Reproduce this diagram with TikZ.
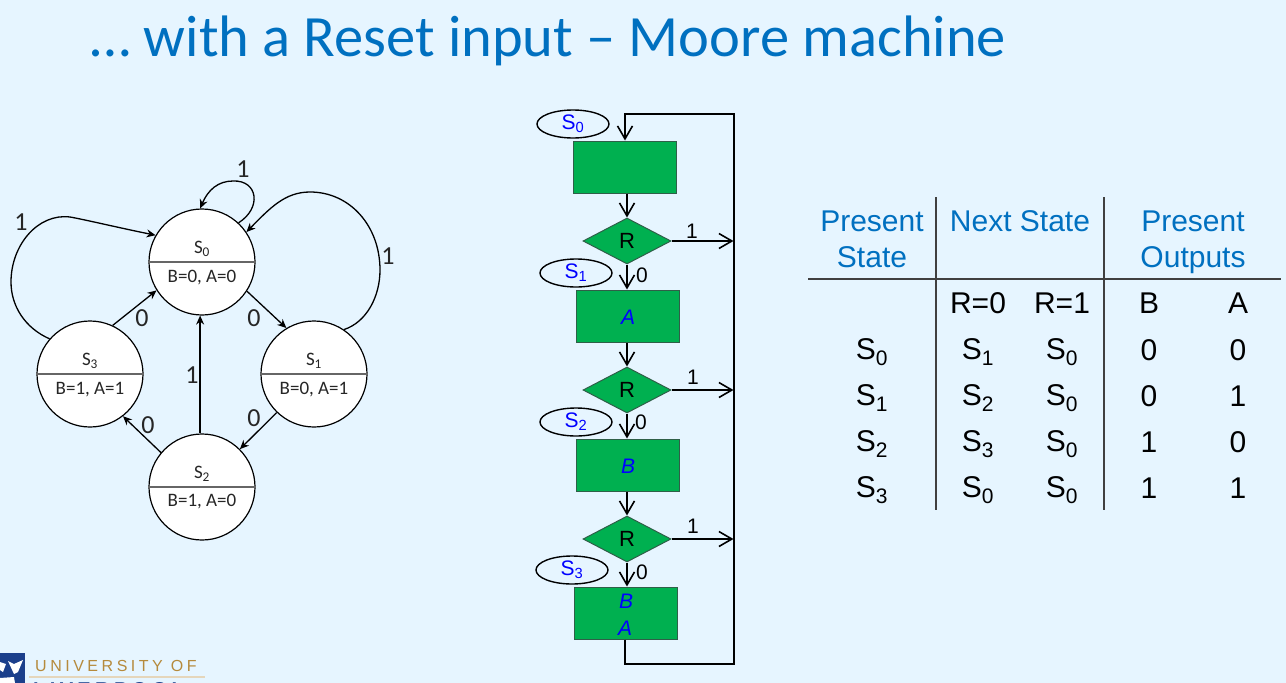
\documentclass[tikz,border=0pt]{standalone}
\usepackage{xcolor}
\usepackage{fontspec}
\usepackage{tikz}
\usetikzlibrary{shapes.geometric, arrows.meta}
\setmainfont{Liberation Sans}
\newfontfamily\titlefont{Carlito}
\newfontfamily\logofont[LetterSpace=22]{Liberation Sans}
\definecolor{slidebg}{HTML}{E6F5FF}
\definecolor{slideblue}{HTML}{0070C0}
\definecolor{flowgreen}{HTML}{00B050}
\definecolor{flowedge}{HTML}{2F5F48}
\definecolor{logogold}{HTML}{B58A3C}
\definecolor{logonavy}{HTML}{1B3F8B}
\newcommand{\stname}[1]{S\textsubscript{#1}}
\tikzset{
    statebox/.style={circle, draw=black, fill=white, line width=1.2pt, minimum size=106pt, inner sep=0pt},
    statetext/.style={font=\titlefont\fontsize{19}{19}\selectfont, text=black!85},
    edgelabel/.style={font=\titlefont\fontsize{26}{26}\selectfont, text=black!85},
    statearrow/.style={line width=1.3pt, -{Stealth[length=9pt,width=8pt]}},
    flowbox/.style={rectangle, draw=flowedge, fill=flowgreen, line width=1pt, minimum width=103pt, minimum height=52pt, inner sep=0pt},
    flowtest/.style={diamond, draw=flowedge, fill=flowgreen, line width=1pt, minimum width=88pt, minimum height=46pt, inner sep=0pt, font=\fontsize{22}{22}\selectfont},
    flowtag/.style={ellipse, draw=black, line width=1.4pt, minimum width=72pt, minimum height=28pt, inner sep=0pt, text=blue, font=\fontsize{21}{21}\selectfont},
    flowvar/.style={text=blue, inner sep=0pt, font=\itshape\fontsize{21}{21}\selectfont},
    flowlabel/.style={inner sep=0pt, font=\fontsize{21}{21}\selectfont},
    flowarrow/.style={line width=2pt, -{Straight Barb[length=13pt,width=15pt,line width=1.6pt]}},
    tablehead/.style={text=slideblue, inner sep=0pt, font=\fontsize{30}{30}\selectfont},
    tablecell/.style={inner sep=0pt, font=\fontsize{30}{30}\selectfont},
    tablerule/.style={draw=black!75, line width=1.3pt}
}

\begin{document}
\begin{tikzpicture}[x=1pt, y=-1pt]
    \useasboundingbox (0,0) rectangle (1286,683);
    \clip (0,0) rectangle (1286,683);
    \fill[slidebg] (0,0) rectangle (1286,683);

    % Title
    \node[anchor=west, inner sep=0pt, text=slideblue, font=\titlefont\fontsize{58.5}{58.5}\selectfont] (title) at (90,41) {\dots{} with a Reset input – Moore machine};

    % State circles
    \node[statebox] (s0) at (202,262) {};
    \node[statebox] (s1) at (314,374) {};
    \node[statebox] (s2) at (202,487) {};
    \node[statebox] (s3) at (90,374) {};
    \draw[draw=black!60, line width=1.4pt] (s0.west) -- (s0.east);
    \draw[draw=black!60, line width=1.4pt] (s1.west) -- (s1.east);
    \draw[draw=black!60, line width=1.4pt] (s2.west) -- (s2.east);
    \draw[draw=black!60, line width=1.4pt] (s3.west) -- (s3.east);
    \node[statetext] (s0name) at (202,249) {\stname{0}};
    \node[statetext] (s1name) at (314,361) {\stname{1}};
    \node[statetext] (s2name) at (202,474) {\stname{2}};
    \node[statetext] (s3name) at (90,361) {\stname{3}};
    \node[statetext] (s0out) at (202,278) {B=0, A=0};
    \node[statetext] (s1out) at (314,390) {B=0, A=1};
    \node[statetext] (s2out) at (202,502) {B=1, A=0};
    \node[statetext] (s3out) at (90,390) {B=1, A=1};

    % State transitions
    \draw[statearrow] (s0.-33) -- (s1.121);
    \draw[statearrow] (s1.226) -- (s2.45);
    \draw[statearrow] (s2.140) -- (s3.-52);
    \draw[statearrow] (s3.65) -- (s0.212);
    \draw[statearrow] (s2.92) -- (s0.268);
    \coordinate (s0loop) at (233,181);
    \coordinate (s1loop) at (380,270);
    \coordinate (s1top) at (310,192);
    \coordinate (s3loop) at (11,282);
    \coordinate (s3top) at (70,217);
    \draw[statearrow] (s0.47) .. controls (262,208) and (258,180) .. (s0loop) .. controls (218,181) and (208,190) .. (s0.92);
    \draw[statearrow] (s1.56) .. controls (367,322) and (380,296) .. (s1loop) .. controls (380,226) and (350,192) .. (s1top) .. controls (285,192) and (270,208) .. (s0.34);
    \draw[statearrow] (s3.139) .. controls (25,328) and (11,306) .. (s3loop) .. controls (11,245) and (38,213) .. (s3top) .. controls (82,219) and (120,228) .. (s0.150);
    \node[edgelabel] (l01) at (254,318) {0};
    \node[edgelabel] (l12) at (254,418) {0};
    \node[edgelabel] (l23) at (148,425) {0};
    \node[edgelabel] (l30) at (142,318) {0};
    \node[edgelabel] (l20) at (192,375) {1};
    \node[edgelabel] (l00) at (243,169) {1};
    \node[edgelabel] (l10) at (388,256) {1};
    \node[edgelabel] (l33) at (21,222) {1};

    % Flowchart blocks
    \node[flowbox] (box0) at (625,167) {};
    \node[flowtest] (test1) at (627,241) {R};
    \node[flowbox] (box1) at (628,316) {};
    \node[flowtest] (test2) at (627,390) {R};
    \node[flowbox] (box2) at (628,465) {};
    \node[flowtest] (test3) at (627,539) {R};
    \node[flowbox] (box3) at (625.5,613) {};
    \node[flowvar] (varA) at (628,317) {A};
    \node[flowvar] (varB) at (628,466) {B};
    \node[flowvar] (varBB) at (626,601) {B};
    \node[flowvar] (varAA) at (625,628) {A};
    \node[flowtag] (tag0) at (573,124) {\stname{0}};
    \node[flowtag] (tag1) at (576,273) {\stname{1}};
    \node[flowtag] (tag2) at (576,422) {\stname{2}};
    \node[flowtag] (tag3) at (572,570) {\stname{3}};

    % Flowchart arrows
    \coordinate (bus1) at (733.5,241);
    \coordinate (bus2) at (733.5,390);
    \coordinate (bus3) at (733.5,539);
    \coordinate (bustop) at (733.5,114);
    \coordinate (busbot) at (733.5,664);
    \coordinate (backin) at (625,114);
    \coordinate (backout) at (625,664);
    \draw[flowarrow] (box0.south -| test1) -- (test1.north);
    \draw[flowarrow] (test1.south) -- (test1.south |- box1.north);
    \draw[flowarrow] (box1.south -| test2) -- (test2.north);
    \draw[flowarrow] (test2.south) -- (test2.south |- box2.north);
    \draw[flowarrow] (box2.south -| test3) -- (test3.north);
    \draw[flowarrow] (test3.south) -- (test3.south |- box3.north);
    \draw[flowarrow] (test1.east) -- (bus1);
    \draw[flowarrow] (test2.east) -- (bus2);
    \draw[flowarrow] (test3.east) -- (bus3);
    \draw[flowarrow] (box3.south -| backout) -- (backout) -- (busbot) -- (bustop) -- (backin) -- (box0.north -| backin);
    \node[flowlabel] (r1) at (692,231) {1};
    \node[flowlabel] (r2) at (693,377) {1};
    \node[flowlabel] (r3) at (693,526) {1};
    \node[flowlabel] (z1) at (642,275) {0};
    \node[flowlabel] (z2) at (641,422) {0};
    \node[flowlabel] (z3) at (642,572) {0};

    % Table rules
    \coordinate (ruleA) at (936,197);
    \coordinate (ruleB) at (936,510);
    \coordinate (ruleC) at (1104,197);
    \coordinate (ruleD) at (1104,510);
    \coordinate (ruleE) at (808,279);
    \coordinate (ruleF) at (1281,279);
    \draw[tablerule] (ruleA) -- (ruleB);
    \draw[tablerule] (ruleC) -- (ruleD);
    \draw[tablerule] (ruleE) -- (ruleF);

    % Table header
    \node[tablehead] (hpresent) at (872,221) {Present};
    \node[tablehead] (hstate) at (872,257) {State};
    \node[tablehead] (hnext) at (1020,221) {Next State};
    \node[tablehead] (houtput) at (1193,221) {Present};
    \node[tablehead] (houtputs) at (1193,260) {Outputs};
    \node[tablecell] (hr0) at (978,303) {R=0};
    \node[tablecell] (hr1) at (1062,303) {R=1};
    \node[tablecell] (hb) at (1149,303) {B};
    \node[tablecell] (ha) at (1238,303) {A};

    % Table rows
    \node[tablecell] (p0) at (872,352) {\stname{0}};
    \node[tablecell] (n00) at (978,352) {\stname{1}};
    \node[tablecell] (n01) at (1062,352) {\stname{0}};
    \node[tablecell] (b0) at (1149,350) {0};
    \node[tablecell] (a0) at (1238,350) {0};
    \node[tablecell] (p1) at (872,398) {\stname{1}};
    \node[tablecell] (n10) at (978,398) {\stname{2}};
    \node[tablecell] (n11) at (1062,398) {\stname{0}};
    \node[tablecell] (b1) at (1149,396) {0};
    \node[tablecell] (a1) at (1238,396) {1};
    \node[tablecell] (p2) at (872,444) {\stname{2}};
    \node[tablecell] (n20) at (978,444) {\stname{3}};
    \node[tablecell] (n21) at (1062,444) {\stname{0}};
    \node[tablecell] (b2) at (1149,442) {1};
    \node[tablecell] (a2) at (1238,442) {0};
    \node[tablecell] (p3) at (872,490) {\stname{3}};
    \node[tablecell] (n30) at (978,490) {\stname{0}};
    \node[tablecell] (n31) at (1062,490) {\stname{0}};
    \node[tablecell] (b3) at (1149,488) {1};
    \node[tablecell] (a3) at (1238,488) {1};

    % University logo
    \fill[logonavy] (0,653) -- (25,653) -- (25,683) -- (0,683) -- cycle;
    \fill[white] (0,662) -- (6,664) -- (3,672) -- (0,670) -- cycle;
    \fill[white] (8,661) -- (14,664) -- (23,660) -- (18,672) -- (14,674) -- cycle;
    \fill[white] (0,678) -- (14,677) -- (15,683) -- (0,683) -- cycle;
    \node[anchor=west, inner sep=0pt, text=logogold, font=\logofont\fontsize{16}{16}\selectfont] (uni) at (35,666) {UNIVERSITY OF};
    \draw[draw=logogold!35, line width=1.2pt] (29,677) -- (205,677);
    \node[anchor=north west, inner sep=0pt, text=logonavy, font=\bfseries\logofont\fontsize{20}{20}\selectfont] (liv) at (33,682) {LIVERPOOL};
\end{tikzpicture}
\end{document}
